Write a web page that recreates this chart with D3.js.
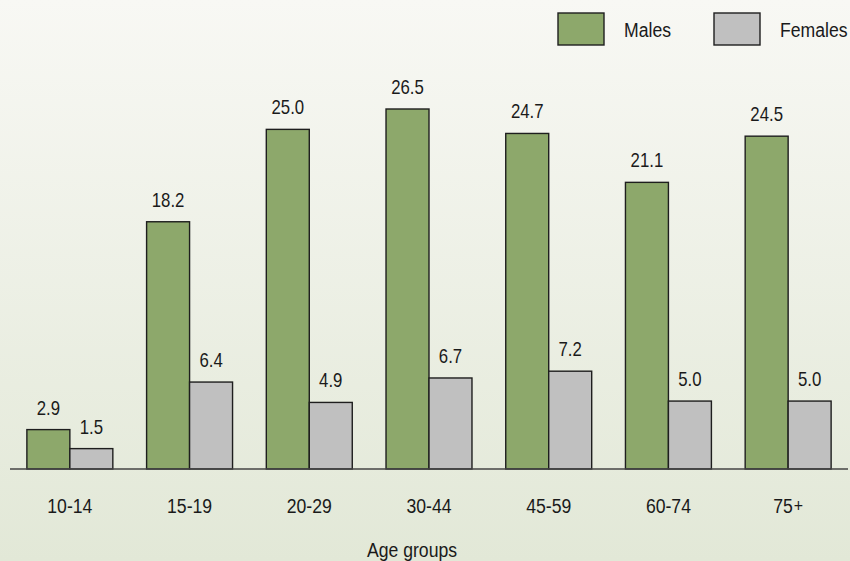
<!DOCTYPE html>
<html>
<head>
<meta charset="utf-8">
<script src="https://cdn.jsdelivr.net/npm/d3@7"></script>
<style>
  body { margin: 0; }
  svg { display: block; }
  text { font-family: "Liberation Sans", Arial, sans-serif; fill: #1a1a1a; }
</style>
</head>
<body>
<svg id="chart" width="850" height="561"></svg>
<script>
// chart data
var ageGroups = ["10-14", "15-19", "20-29", "30-44", "45-59", "60-74", "75+"];
var males = [2.9, 18.2, 25.0, 26.5, 24.7, 21.1, 24.5];
var females = [1.5, 6.4, 4.9, 6.7, 7.2, 5.0, 5.0];
var seriesNames = ["Males", "Females"];
var seriesColors = ["#8da86b", "#c0c0c0"];

var W = 850, H = 561;
var baseY = 469;
var narrow = 0.84;   // squeeze Liberation Sans to look like a condensed face
var svg = d3.select("#chart");

// put a condensed text at x,y
function label(sel, x, y) {
    return sel.attr("transform", "translate(" + x + "," + y + ") scale(" + narrow + ",1)");
}

// background gradient
var defs = svg.append("defs");
var grad = defs.append("linearGradient")
    .attr("id", "bg").attr("x1", 0).attr("y1", 0).attr("x2", 0).attr("y2", 1);
grad.append("stop").attr("offset", "0%").attr("stop-color", "#f8f8f4");
grad.append("stop").attr("offset", "100%").attr("stop-color", "#e2e8d7");
svg.append("rect").attr("width", W).attr("height", H).attr("fill", "url(#bg)");

var x0 = d3.scaleBand()
    .domain(ageGroups)
    .range([10, 848])
    .paddingInner(0.282)
    .paddingOuter(0.141);

var x1 = d3.scaleBand()
    .domain(seriesNames)
    .range([0, x0.bandwidth()]);

var y = d3.scaleLinear()
    .domain([0, 26.5])
    .range([baseY, 109]);

var rows = ageGroups.map(function (g, i) {
    return { group: g, values: [males[i], females[i]] };
});

var groups = svg.append("g").selectAll("g")
    .data(rows)
    .join("g")
    .attr("transform", function (d) { return "translate(" + x0(d.group) + ",0)"; });

var bars = groups.selectAll("g")
    .data(function (d) {
        return d.values.map(function (v, j) { return { key: seriesNames[j], value: v, idx: j }; });
    })
    .join("g");

bars.append("rect")
    .attr("x", function (d) { return x1(d.key); })
    .attr("y", function (d) { return y(d.value); })
    .attr("width", x1.bandwidth())
    .attr("height", function (d) { return baseY - y(d.value); })
    .attr("fill", function (d) { return seriesColors[d.idx]; })
    .attr("stroke", "#1e1e1e")
    .attr("stroke-width", 1.4);

bars.append("text")
    .each(function (d) {
        label(d3.select(this), x1(d.key) + x1.bandwidth() / 2, y(d.value) - 15);
    })
    .attr("text-anchor", "middle")
    .attr("font-size", 20)
    .text(function (d) { return d.value.toFixed(1); });

// baseline
svg.append("line")
    .attr("x1", 10).attr("x2", 848)
    .attr("y1", baseY).attr("y2", baseY)
    .attr("stroke", "#444").attr("stroke-width", 1.5);

// category labels
svg.append("g").selectAll("text")
    .data(ageGroups)
    .join("text")
    .each(function (d) {
        var t = label(d3.select(this), x0(d) + x0.bandwidth() / 2, 513);
        if (d.slice(-1) === "+") {
            t.append("tspan").text(d.slice(0, -1));
            t.append("tspan").attr("font-size", 19).attr("dx", 1).attr("dy", -1).attr("font-weight", 300).text("+");
        } else {
            t.text(d);
        }
    })
    .attr("text-anchor", "middle")
    .attr("font-size", 21);

label(svg.append("text"), 412, 557)
    .attr("text-anchor", "middle")
    .attr("font-size", 21)
    .text("Age groups");

// legend
var legendX = [558, 714];
var legend = svg.append("g").selectAll("g")
    .data(seriesNames)
    .join("g")
    .attr("transform", function (d, i) { return "translate(" + legendX[i] + ",13)"; });
legend.append("rect")
    .attr("width", 46).attr("height", 32)
    .attr("fill", function (d, i) { return seriesColors[i]; })
    .attr("stroke", "#1e1e1e").attr("stroke-width", 1.4);
legend.append("text")
    .each(function () { label(d3.select(this), 66, 24); })
    .attr("font-size", 21)
    .text(function (d) { return d; });
</script>
</body>
</html>
